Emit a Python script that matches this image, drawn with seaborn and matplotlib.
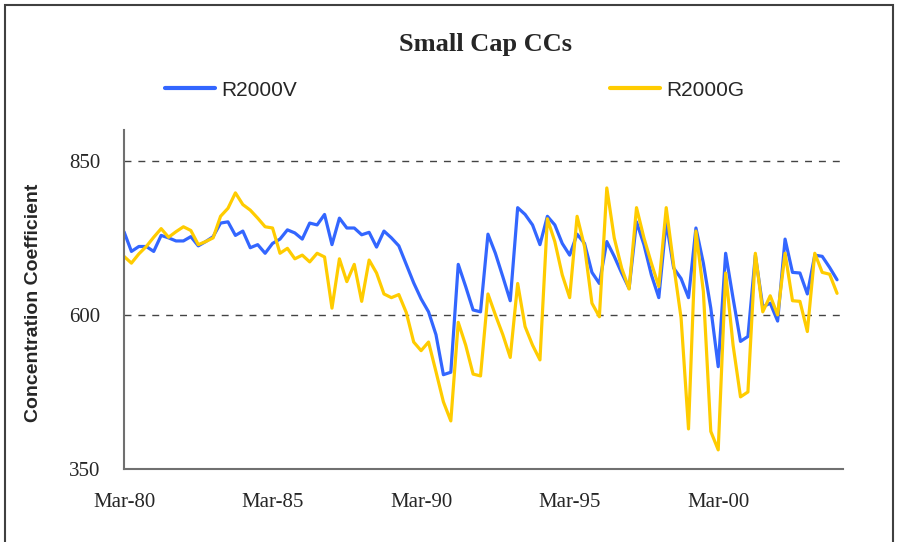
import numpy as np
import pandas as pd
import seaborn as sns
import matplotlib.pyplot as plt
from matplotlib.lines import Line2D
from matplotlib.patches import Rectangle

# quarterly concentration coefficients, Mar-80 .. Mar-04
r2000v = [735, 703, 711, 711, 703, 729, 725, 720, 720, 727,
          712, 719, 727, 749, 751, 729, 736, 709, 714, 700,
          716, 723, 738, 733, 723, 749, 746, 763, 714, 757,
          741, 741, 730, 734, 710, 736, 725, 712, 682, 652,
          626, 605, 568, 503, 507, 682, 646, 608, 605, 731,
          700, 662, 623, 774, 763, 746, 714, 760, 746, 716,
          697, 731, 716, 669, 651, 719, 695, 668, 643, 751,
          714, 665, 628, 751, 676, 659, 628, 741, 684, 611,
          516, 700, 627, 557, 565, 697, 613, 619, 590, 723,
          669, 668, 634, 697, 695, 677, 657]
r2000g = [695, 684, 699, 711, 726, 740, 726, 735, 743, 737,
          714, 719, 725, 760, 773, 798, 779, 770, 757, 743,
          741, 700, 708, 691, 697, 686, 700, 694, 611, 691,
          654, 682, 622, 689, 668, 634, 628, 633, 604, 556,
          542, 556, 508, 459, 428, 588, 551, 504, 501, 634,
          600, 568, 531, 651, 581, 551, 527, 756, 719, 665,
          628, 760, 711, 619, 597, 806, 725, 676, 642, 774,
          725, 684, 646, 774, 681, 595, 415, 736, 638, 411,
          381, 668, 551, 467, 475, 700, 605, 631, 600, 700,
          623, 622, 573, 700, 669, 666, 635]
series_names = ["R2000V", "R2000G"]
tick_labels = ["Mar-80", "Mar-85", "Mar-90", "Mar-95", "Mar-00"]
y_ticks = [350, 600, 850]

colors = {"R2000V": "#3366FF", "R2000G": "#FFCC00"}

n = len(r2000v)
quarter = np.arange(n)
df = pd.DataFrame({
    "quarter": np.concatenate([quarter, quarter]),
    "cc": r2000v + r2000g,
    "series": [series_names[0]] * n + [series_names[1]] * n,
})

sns.set_style("white")
plt.rcParams['font.family'] = ['Liberation Serif', 'DejaVu Serif']

fig = plt.figure(figsize=(8.97, 5.42), dpi=100)
ax = fig.add_axes([124 / 897, 1 - 469 / 542, (843 - 124) / 897, (469 - 130) / 542])

sns.lineplot(data=df, x="quarter", y="cc", hue="series", hue_order=series_names,
             palette=colors, linewidth=2.3, ax=ax, legend=False)

ax.set_xlim(0, 96.8)
ax.set_ylim(350, 900)
ax.set_yticks(y_ticks)
ax.set_yticklabels([str(v) for v in y_ticks], fontsize=15)
ax.set_xticks(quarter[::20])
ax.set_xticklabels(tick_labels, fontsize=15)
ax.set_xlabel("")
ax.set_ylabel("Concentration Coefficient", fontsize=14, fontweight="bold",
              family="Liberation Sans")
ax.yaxis.set_label_coords(-0.114, 0.49)

ax.grid(axis="y", linestyle=(0, (5, 5)), color="#444444", linewidth=1)
ax.grid(axis="x", visible=False)
for side in ["top", "right"]:
    ax.spines[side].set_visible(False)
for side in ["left", "bottom"]:
    ax.spines[side].set_color("#707070")
    ax.spines[side].set_linewidth(1.5)
ax.tick_params(axis="both", direction="out", length=5, width=1, color="#707070")
ax.tick_params(axis="y", pad=12)
ax.tick_params(axis="x", pad=12)

fig.text(485 / 897, 1 - 45 / 542, "Small Cap CCs", ha="center", va="center",
         fontsize=19, fontweight="bold", family="Liberation Serif")

handles = [Line2D([], [], color=colors[s], linewidth=3) for s in series_names]
fig.legend(handles, series_names, loc="center left",
           bbox_to_anchor=(165 / 897, 1 - 90 / 542), ncol=2, frameon=False,
           handlelength=2.4, handletextpad=0.3, columnspacing=15.0,
           borderpad=0, borderaxespad=0,
           prop={"family": "Liberation Sans", "size": 15})

# chart frame
fig.patches.append(Rectangle((5 / 897, -0.02), 888 / 897, 1 - 5 / 542 + 0.02,
                             transform=fig.transFigure, fill=False,
                             edgecolor="#404040", linewidth=1.5))

fig.savefig("out.png", dpi=100)
